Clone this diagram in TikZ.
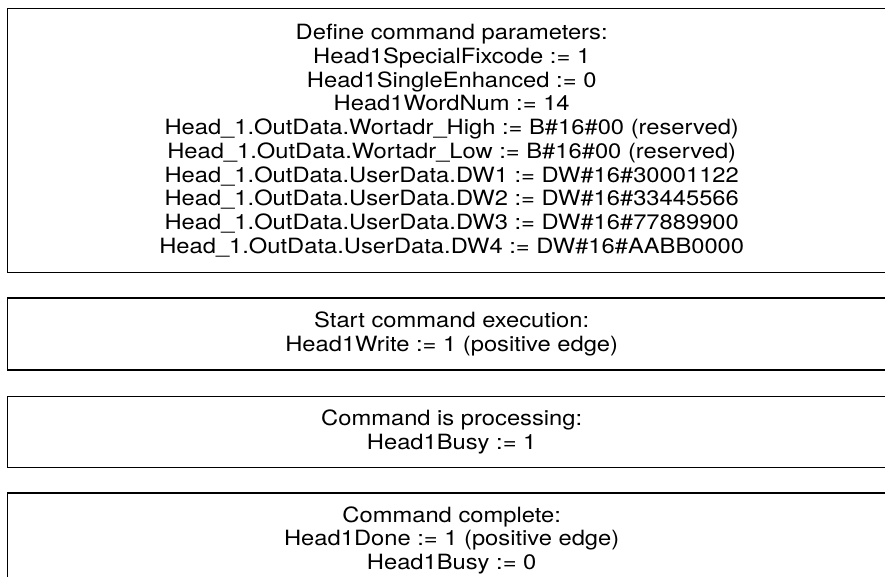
\documentclass[tikz,border=0pt]{standalone}
\usepackage{fontspec}
\setmainfont[FakeStretch=1.13]{TeX Gyre Heros}
\usetikzlibrary{positioning}
\tikzstyle{cmdbox} = [rectangle, minimum width=888pt, text centered, align=center, draw=black, line width=1.4pt, inner sep=0pt, font=\fontsize{21}{23.7}\selectfont]

\begin{document}
\begin{tikzpicture}[x=1pt, y=-1pt]
    \useasboundingbox (0,0) rectangle (885,577);
    \clip (0,0) rectangle (885,577);
    \node (params) [cmdbox, minimum height=264pt, anchor=north west] at (7,8) {Define command parameters:\\
        Head1SpecialFixcode := 1\\
        Head1SingleEnhanced := 0\\
        Head1WordNum := 14\\
        Head\_1.OutData.Wortadr\_High := B\#16\#00 (reserved)\\
        Head\_1.OutData.Wortadr\_Low := B\#16\#00 (reserved)\\
        Head\_1.OutData.UserData.DW1 := DW\#16\#30001122\\
        Head\_1.OutData.UserData.DW2 := DW\#16\#33445566\\
        Head\_1.OutData.UserData.DW3 := DW\#16\#77889900\\
        Head\_1.OutData.UserData.DW4 := DW\#16\#AABB0000};
    \node (start) [cmdbox, minimum height=72pt, below=24pt of params] {Start command execution:\\
        Head1Write := 1 (positive edge)};
    \node (busy) [cmdbox, minimum height=71pt, below=25pt of start] {Command is processing:\\
        Head1Busy := 1};
    \node (done) [cmdbox, minimum height=95pt, below=24pt of busy] {Command complete:\\
        Head1Done := 1 (positive edge)\\
        Head1Busy := 0};
\end{tikzpicture}
\end{document}
